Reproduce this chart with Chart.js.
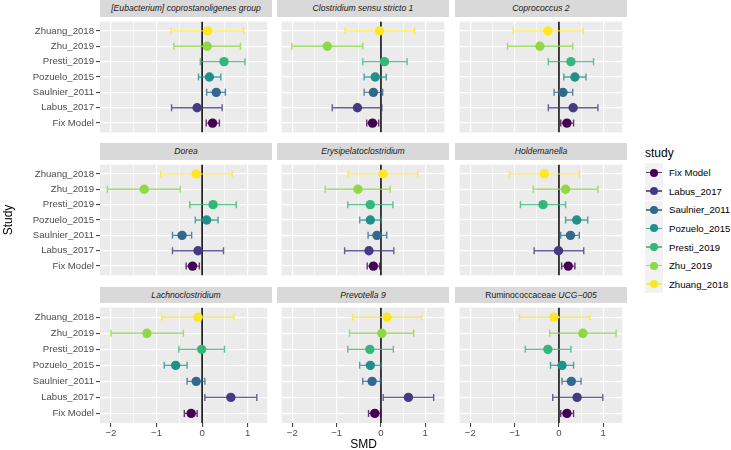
<!DOCTYPE html>
<html>
<head>
<meta charset="utf-8">
<script src="https://cdn.jsdelivr.net/npm/chart.js@4/dist/chart.umd.min.js"></script>
<style>
body { margin: 0; width: 731px; height: 450px; background: #fff; position: relative; overflow: hidden; font-family: "Liberation Sans", Arial, sans-serif; }
canvas { position: absolute; }
.strip { position: absolute; background: #D9D9D9; color: #1A1A1A; font-size: 8.6px; font-style: italic; text-align: center; white-space: nowrap; overflow: hidden; }
.title { position: absolute; color: #000; font-size: 12px; white-space: nowrap; }
.key { position: absolute; width: 18px; background: #F2F2F2; }
.keyLine { position: absolute; left: 1px; width: 16px; height: 1.5px; }
.keyDot { position: absolute; left: 5px; width: 8px; height: 8px; border-radius: 50%; }
.keyLabel { position: absolute; color: #000; font-size: 9.6px; white-space: nowrap; }
</style>
</head>
<body>
<div id="root"></div>
<script>
// ===== DATA =====
// studies from bottom row to top row
const studies = ["Fix Model", "Labus_2017", "Saulnier_2011", "Pozuelo_2015", "Presti_2019", "Zhu_2019", "Zhuang_2018"];
const studyColors = ["#440154", "#443A83", "#31688E", "#21908C", "#35B779", "#8FD744", "#FDE725"];

const taxa = [
    "[Eubacterium] coprostanoligenes group", "Clostridium sensu stricto 1", "Coprococcus 2",
    "Dorea", "Erysipelatoclostridium", "Holdemanella",
    "Lachnoclostridium", "Prevotella 9", "Ruminococcaceae UCG−005",
];

// one row per taxon, values in the order of `studies`
const smd = [
    [0.23, -0.11, 0.31, 0.16, 0.48, 0.11, 0.12],
    [-0.19, -0.53, -0.17, -0.13, 0.08, -1.21, -0.03],
    [0.18, 0.32, 0.09, 0.36, 0.27, -0.43, -0.25],
    [-0.21, -0.09, -0.44, 0.10, 0.24, -1.27, -0.13],
    [-0.17, -0.27, -0.09, -0.24, -0.24, -0.52, 0.05],
    [0.21, -0.01, 0.26, 0.40, -0.36, 0.15, -0.33],
    [-0.24, 0.63, -0.13, -0.58, -0.01, -1.21, -0.09],
    [-0.14, 0.62, -0.20, -0.24, -0.25, 0.02, 0.14],
    [0.18, 0.41, 0.28, 0.07, -0.25, 0.54, -0.11],
];
const ciLow = [
    [0.09, -0.67, 0.10, -0.08, -0.04, -0.62, -0.68],
    [-0.32, -1.10, -0.38, -0.38, -0.41, -2.01, -0.81],
    [0.04, -0.24, -0.11, 0.11, -0.24, -1.16, -1.03],
    [-0.35, -0.65, -0.65, -0.15, -0.27, -2.08, -0.91],
    [-0.31, -0.82, -0.29, -0.48, -0.75, -1.26, -0.74],
    [0.06, -0.56, 0.04, 0.15, -0.87, -0.58, -1.12],
    [-0.39, 0.06, -0.33, -0.83, -0.51, -2.00, -0.88],
    [-0.28, 0.05, -0.41, -0.48, -0.75, -0.71, -0.64],
    [0.04, -0.14, 0.07, -0.19, -0.76, -0.21, -0.89],
];
const ciHigh = [
    [0.38, 0.44, 0.51, 0.41, 0.94, 0.84, 0.91],
    [-0.05, 0.02, 0.04, 0.12, 0.59, -0.41, 0.76],
    [0.33, 0.88, 0.31, 0.61, 0.78, 0.31, 0.55],
    [-0.06, 0.47, -0.23, 0.35, 0.75, -0.48, 0.66],
    [-0.03, 0.29, 0.13, 0.01, 0.27, 0.21, 0.83],
    [0.36, 0.56, 0.46, 0.65, 0.15, 0.88, 0.46],
    [-0.11, 1.20, 0.06, -0.33, 0.49, -0.41, 0.70],
    [-0.01, 1.19, -0.01, 0.01, 0.28, 0.74, 0.92],
    [0.33, 0.99, 0.50, 0.33, 0.27, 1.29, 0.70],
];

const xTicks = [-2, -1.5, -1, -0.5, 0, 0.5, 1];
const xMin = -2.24;
const xMax = 1.43;
const refLine = 0;

// ===== LAYOUT =====
const FONT = "'Liberation Sans', Arial, sans-serif";
const colLeft = [100, 277, 455];
const rowTop = [16.7, 160, 303.3];
const panelW = 172;
const panelH = 120;
const stripH = 16.7;
const yAxisW = 100;
const xAxisH = 27;
const barAlpha = 0.8;

const root = document.getElementById("root");

function withAlpha(hex, a) {
    const n = parseInt(hex.slice(1), 16);
    return `rgba(${n >> 16},${(n >> 8) & 255},${n & 255},${a})`;
}

function stripHtml(name) {
    if (name.startsWith("Ruminococcaceae")) {
        return '<span style="font-style:normal">Ruminococcaceae</span> ' + name.split(" ")[1];
    }
    return name;
}

function panelPlugin(k) {
    return {
        id: "panel" + k,
        beforeDraw(chart) {
            const a = chart.chartArea;
            const ctx = chart.ctx;
            ctx.save();
            ctx.fillStyle = "#EBEBEB";
            ctx.fillRect(a.left, a.top, a.right - a.left, a.bottom - a.top);
            ctx.restore();
        },
        beforeDatasetsDraw(chart) {
            const a = chart.chartArea;
            const ctx = chart.ctx;
            const xs = chart.scales.x;
            const ys = chart.scales.y;
            ctx.save();
            // reference line at 0
            const x0 = xs.getPixelForValue(refLine);
            ctx.strokeStyle = "#000000";
            ctx.lineWidth = 1.5;
            ctx.beginPath();
            ctx.moveTo(x0, a.top);
            ctx.lineTo(x0, a.bottom);
            ctx.stroke();
            // error bars
            studies.forEach((s, i) => {
                const y = ys.getPixelForValue(i);
                const x1 = xs.getPixelForValue(ciLow[k][i]);
                const x2 = xs.getPixelForValue(ciHigh[k][i]);
                ctx.strokeStyle = withAlpha(studyColors[i], barAlpha);
                ctx.lineWidth = 1.4;
                ctx.beginPath();
                ctx.moveTo(x1, y);
                ctx.lineTo(x2, y);
                ctx.moveTo(x1, y - 3.5);
                ctx.lineTo(x1, y + 3.5);
                ctx.moveTo(x2, y - 3.5);
                ctx.lineTo(x2, y + 3.5);
                ctx.stroke();
            });
            ctx.restore();
        },
    };
}

function makePanel(k) {
    const r = Math.floor(k / 3);
    const c = k % 3;
    const isLeft = c === 0;
    const isBottom = r === 2;

    const strip = document.createElement("div");
    strip.className = "strip";
    strip.style.left = colLeft[c] + "px";
    strip.style.top = (rowTop[r] - stripH) + "px";
    strip.style.width = panelW + "px";
    strip.style.height = stripH + "px";
    strip.style.lineHeight = stripH + "px";
    strip.innerHTML = stripHtml(taxa[k]);
    root.appendChild(strip);

    const cv = document.createElement("canvas");
    const w = isLeft ? yAxisW + panelW : panelW;
    const h = isBottom ? panelH + xAxisH : panelH;
    cv.width = w;
    cv.height = h;
    cv.style.width = w + "px";
    cv.style.height = h + "px";
    cv.style.left = (isLeft ? colLeft[c] - yAxisW : colLeft[c]) + "px";
    cv.style.top = rowTop[r] + "px";
    root.appendChild(cv);

    new Chart(cv, {
        type: "scatter",
        data: {
            datasets: [{
                data: studies.map((s, i) => ({ x: smd[k][i], y: i })),
                pointRadius: 4.7,
                pointHoverRadius: 4.7,
                pointBorderWidth: 0,
                pointBackgroundColor: studyColors,
            }],
        },
        options: {
            responsive: false,
            animation: false,
            events: [],
            layout: { padding: 0 },
            plugins: { legend: { display: false }, tooltip: { enabled: false } },
            scales: {
                x: {
                    type: "linear",
                    min: xMin,
                    max: xMax,
                    afterBuildTicks: (s) => { s.ticks = xTicks.map((v) => ({ value: v })); },
                    afterFit: (s) => {
                        s.height = isBottom ? xAxisH : 0;
                        s.paddingLeft = 0; s.paddingRight = 0;
                    },
                    border: { display: false },
                    grid: {
                        color: "#FFFFFF",
                        lineWidth: (ctx) => (Number.isInteger(ctx.tick.value) ? 1.2 : 0.6),
                        drawTicks: isBottom,
                        tickLength: 4,
                        tickWidth: 1,
                        tickColor: (ctx) => (Number.isInteger(ctx.tick.value) ? "#333333" : "rgba(0,0,0,0)"),
                    },
                    ticks: {
                        display: isBottom,
                        color: "#4D4D4D",
                        font: { size: 9.6, family: FONT },
                        padding: 1,
                        maxRotation: 0,
                        autoSkip: false,
                        callback: (v) => (Number.isInteger(v) ? String(v).replace("-", "\u2212") : ""),
                    },
                },
                y: {
                    type: "linear",
                    min: -0.6,
                    max: 6.6,
                    afterBuildTicks: (s) => { s.ticks = studies.map((_, i) => ({ value: i })); },
                    afterFit: (s) => {
                        s.width = isLeft ? yAxisW : 0;
                        s.paddingTop = 0; s.paddingBottom = 0;
                    },
                    border: { display: false },
                    grid: {
                        color: "#FFFFFF",
                        lineWidth: 1.2,
                        drawTicks: isLeft,
                        tickLength: 4,
                        tickWidth: 1,
                        tickColor: "#333333",
                    },
                    ticks: {
                        display: isLeft,
                        color: "#4D4D4D",
                        font: { size: 9.6, family: FONT },
                        padding: 2,
                        autoSkip: false,
                        callback: (v) => studies[v],
                    },
                },
            },
        },
        plugins: [panelPlugin(k)],
    });
}

taxa.forEach((t, k) => makePanel(k));

// ===== AXIS TITLES =====
const xTitle = document.createElement("div");
xTitle.className = "title";
xTitle.textContent = "SMD";
xTitle.style.left = "0px";
xTitle.style.width = "727px";
xTitle.style.textAlign = "center";
xTitle.style.top = "437px";
root.appendChild(xTitle);

const yTitle = document.createElement("div");
yTitle.className = "title";
yTitle.textContent = "Study";
yTitle.style.left = "-12px";
yTitle.style.top = "213px";
yTitle.style.width = "40px";
yTitle.style.textAlign = "center";
yTitle.style.transform = "rotate(-90deg)";
root.appendChild(yTitle);

// ===== LEGEND =====
const legTitle = document.createElement("div");
legTitle.className = "title";
legTitle.textContent = "study";
legTitle.style.left = "645px";
legTitle.style.top = "146px";
root.appendChild(legTitle);

const keyH = 18.6;
const keyTop = 163.3;
studies.forEach((s, i) => {
    const top = keyTop + i * keyH;
    const key = document.createElement("div");
    key.className = "key";
    key.style.left = "645px";
    key.style.top = top + "px";
    key.style.height = keyH + "px";
    const line = document.createElement("div");
    line.className = "keyLine";
    line.style.top = (keyH / 2 - 0.75) + "px";
    line.style.background = withAlpha(studyColors[i], barAlpha);
    const dot = document.createElement("div");
    dot.className = "keyDot";
    dot.style.top = (keyH / 2 - 4) + "px";
    dot.style.background = studyColors[i];
    key.appendChild(line);
    key.appendChild(dot);
    root.appendChild(key);

    const label = document.createElement("div");
    label.className = "keyLabel";
    label.textContent = s;
    label.style.left = "669px";
    label.style.top = (top + keyH / 2 - 5.5) + "px";
    root.appendChild(label);
});
</script>
</body>
</html>
